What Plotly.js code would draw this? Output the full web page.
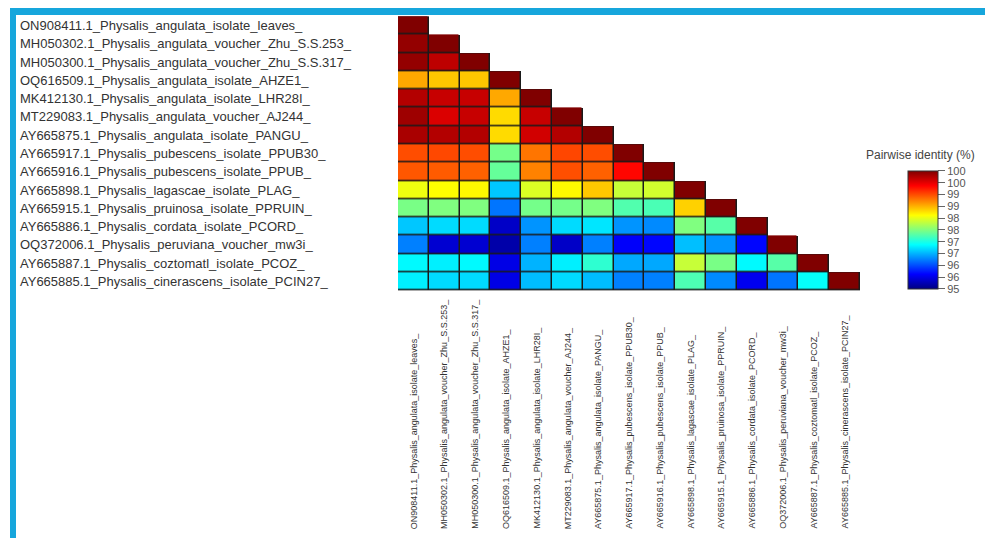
<!DOCTYPE html>
<html>
<head>
<meta charset="utf-8">
<script src="https://cdn.plot.ly/plotly-3.0.1.min.js"></script>
<style>
  html, body { margin: 0; padding: 0; background: #ffffff; }
  #wrap { position: relative; width: 985px; height: 538px; overflow: hidden; }
  #chart { position: absolute; left: 0; top: 0; width: 985px; height: 538px; }
  #frame { position: absolute; left: 10px; top: 8px; width: 985px; height: 526px;
           border-top: 7px solid #16a6dc; border-left: 6px solid #16a6dc;
           border-bottom: 2px solid #5cc3e8; pointer-events: none; box-sizing: content-box; }
</style>
</head>
<body>
<div id="wrap">
  <div id="chart"></div>
  <div id="frame"></div>
</div>
<script>
// Sequence labels (rows top-to-bottom, columns left-to-right)
const seqLabels = [
  "ON908411.1_Physalis_angulata_isolate_leaves_",
  "MH050302.1_Physalis_angulata_voucher_Zhu_S.S.253_",
  "MH050300.1_Physalis_angulata_voucher_Zhu_S.S.317_",
  "OQ616509.1_Physalis_angulata_isolate_AHZE1_",
  "MK412130.1_Physalis_angulata_isolate_LHR28I_",
  "MT229083.1_Physalis_angulata_voucher_AJ244_",
  "AY665875.1_Physalis_angulata_isolate_PANGU_",
  "AY665917.1_Physalis_pubescens_isolate_PPUB30_",
  "AY665916.1_Physalis_pubescens_isolate_PPUB_",
  "AY665898.1_Physalis_lagascae_isolate_PLAG_",
  "AY665915.1_Physalis_pruinosa_isolate_PPRUIN_",
  "AY665886.1_Physalis_cordata_isolate_PCORD_",
  "OQ372006.1_Physalis_peruviana_voucher_mw3i_",
  "AY665887.1_Physalis_coztomatl_isolate_PCOZ_",
  "AY665885.1_Physalis_cinerascens_isolate_PCIN27_"
];

// Pairwise identity (%) - lower triangle, one array per row
const row01 = [100];
const row02 = [99.9, 100];
const row03 = [99.9, 99.7, 100];
const row04 = [98.55, 98.4, 98.4, 100];
const row05 = [99.75, 99.65, 99.65, 98.55, 100];
const row06 = [99.85, 99.55, 99.65, 98.3, 99.65, 100];
const row07 = [99.8, 99.75, 99.75, 98.3, 99.6, 99.75, 100];
const row08 = [99.0, 99.02, 99.0, 97.45, 98.8, 99.03, 99.0, 100];
const row09 = [98.95, 98.93, 98.9, 97.37, 98.74, 98.99, 98.9, 99.35, 100];
const row10 = [98.05, 98.13, 98.16, 96.6, 97.95, 98.15, 98.4, 97.85, 97.9, 100];
const row11 = [97.47, 97.5, 97.5, 96.2, 97.45, 97.45, 97.5, 97.27, 97.24, 98.35, 100];
const row12 = [96.6, 96.7, 96.7, 95.35, 96.35, 96.7, 96.75, 96.35, 96.3, 97.5, 97.3, 100];
const row13 = [96.25, 95.4, 95.4, 95.2, 96.25, 95.35, 96.25, 95.6, 95.65, 96.56, 96.35, 95.65, 100];
const row14 = [96.85, 96.8, 96.85, 95.5, 96.5, 96.8, 97.1, 96.45, 96.45, 97.85, 97.47, 96.85, 97.3, 100];
const row15 = [96.8, 96.7, 96.7, 95.5, 96.55, 96.7, 96.55, 96.25, 96.25, 97.25, 96.3, 95.55, 96.2, 96.9, 100];

// Colour bar ticks
const barTickVals = [100, 99.5, 99, 98.5, 98, 97.5, 97, 96.5, 96, 95.5, 95];
const barTickText = ["100", "100", "99", "99", "98", "98", "97", "97", "96", "96", "95"];

const rows = [row01, row02, row03, row04, row05, row06, row07, row08, row09, row10, row11, row12, row13, row14, row15];
const zFull = rows.map(r => seqLabels.map((_, j) => (j < r.length ? r[j] : null)));
const zMask = zFull.map(r => r.map(v => (v === null ? null : 1)));

const jet = [
  [0, 'rgb(0,0,128)'], [0.125, 'rgb(0,0,255)'], [0.375, 'rgb(0,255,255)'],
  [0.625, 'rgb(255,255,0)'], [0.875, 'rgb(255,0,0)'], [1, 'rgb(128,0,0)']
];

const borderTrace = {
  type: 'heatmap', x: seqLabels, y: seqLabels, z: zMask,
  colorscale: [[0, '#1a1a1a'], [1, '#1a1a1a']], showscale: false, hoverinfo: 'skip'
};

const cellTrace = {
  type: 'heatmap', x: seqLabels, y: seqLabels, z: zFull,
  colorscale: jet, zmin: 95, zmax: 100, xgap: 1.5, ygap: 1.5,
  colorbar: {
    x: 1.104, xanchor: 'left', xpad: 0,
    y: 0.222, yanchor: 'middle', ypad: 0,
    len: 118, lenmode: 'pixels', thickness: 30,
    outlinewidth: 1, outlinecolor: '#333',
    ticks: 'outside', ticklen: 7, tickcolor: '#666', tickwidth: 1,
    tickvals: barTickVals, ticktext: barTickText,
    tickfont: { family: 'Liberation Sans, Arial, sans-serif', size: 11, color: '#555' }
  }
};

const rowAnnotations = seqLabels.map(lab => ({
  xref: 'paper', x: -0.8225, xanchor: 'left',
  yref: 'y', y: lab, yanchor: 'middle',
  text: lab, showarrow: false,
  font: { family: 'Liberation Sans, Arial, sans-serif', size: 13, color: '#333' }
}));

const colAnnotations = seqLabels.map(lab => ({
  xref: 'x', x: lab, xanchor: 'center',
  yref: 'paper', y: -0.872, yanchor: 'bottom',
  text: lab, textangle: -90, showarrow: false,
  font: { family: 'Liberation Sans, Arial, sans-serif', size: 9, color: '#333' }
}));

const titleAnnotation = {
  xref: 'paper', x: 1.13, xanchor: 'center',
  yref: 'paper', y: 0.494, yanchor: 'middle',
  text: 'Pairwise identity (%)', showarrow: false,
  font: { family: 'Liberation Sans, Arial, sans-serif', size: 12, color: '#444' }
};

const layout = {
  width: 985, height: 538,
  margin: { l: 398, r: 125, t: 16, b: 247, pad: 0 },
  paper_bgcolor: '#ffffff', plot_bgcolor: '#ffffff',
  xaxis: { type: 'category', showticklabels: false, showgrid: false, zeroline: false, ticks: '', showline: false },
  yaxis: { type: 'category', autorange: 'reversed', showticklabels: false, showgrid: false, zeroline: false, ticks: '', showline: false },
  annotations: rowAnnotations.concat(colAnnotations, [titleAnnotation]),
  showlegend: false
};

Plotly.newPlot('chart', [borderTrace, cellTrace], layout, { displayModeBar: false, staticPlot: true });
</script>
</body>
</html>
